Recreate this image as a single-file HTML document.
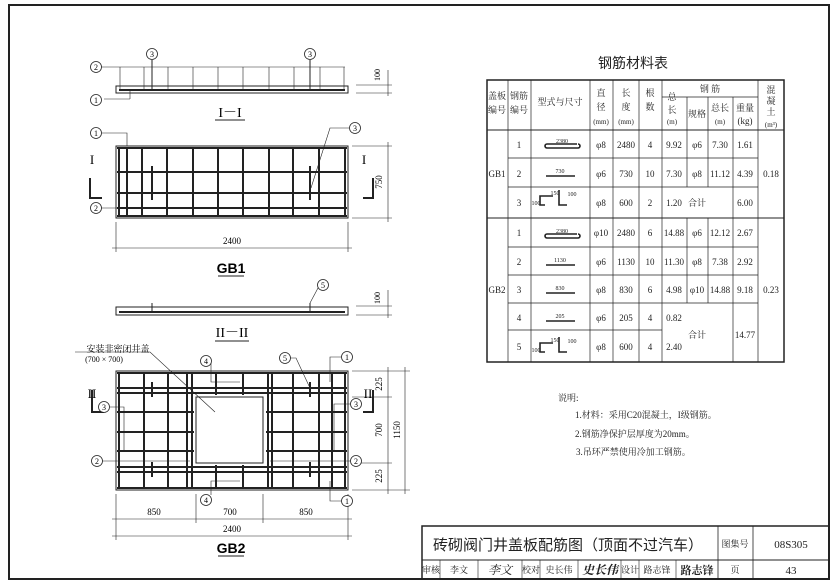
<!DOCTYPE html>
<html><head><meta charset="utf-8"><style>
html,body{margin:0;padding:0;background:#fff;}
svg{display:block;font-family:"Liberation Serif","Noto Serif CJK SC",serif;}
.t{font-family:"Liberation Serif","Noto Serif CJK SC",serif;}
.s{font-family:"Liberation Sans","Noto Sans CJK SC",sans-serif;}
</style></head><body>
<svg width="837" height="584" viewBox="0 0 837 584" xmlns="http://www.w3.org/2000/svg">
<rect x="0" y="0" width="837" height="584" fill="#fff"/>
<rect x="9" y="5" width="820" height="574" fill="none" stroke="#222" stroke-width="2"/>

<!-- I-I section -->
<g stroke="#222" fill="none">
<rect x="116" y="86" width="232" height="7" stroke-width="1"/>
<line x1="119" y1="90" x2="345" y2="90" stroke-width="2"/>
<line x1="100" y1="67" x2="345" y2="67" stroke-width="0.6"/>
<g stroke-width="0.6">
<line x1="120" y1="67" x2="120" y2="90"/><line x1="144" y1="67" x2="144" y2="90"/><line x1="168" y1="67" x2="168" y2="90"/>
<line x1="193" y1="67" x2="193" y2="90"/><line x1="218" y1="67" x2="218" y2="90"/><line x1="243" y1="67" x2="243" y2="90"/>
<line x1="269" y1="67" x2="269" y2="90"/><line x1="294" y1="67" x2="294" y2="90"/><line x1="320" y1="67" x2="320" y2="90"/><line x1="344" y1="67" x2="344" y2="90"/>
</g>
<line x1="152" y1="60" x2="152" y2="90" stroke-width="1"/><line x1="310" y1="60" x2="310" y2="90" stroke-width="1"/>
<line x1="356" y1="85" x2="392" y2="85" stroke-width="0.6"/><line x1="356" y1="93" x2="392" y2="93" stroke-width="0.6"/>
<line x1="388" y1="70" x2="388" y2="96" stroke-width="0.6"/>
<line x1="104" y1="99" x2="130" y2="99" stroke-width="0.6"/><line x1="130" y1="99" x2="130" y2="91" stroke-width="0.6"/>
<line x1="215" y1="120" x2="245" y2="120" stroke-width="1"/>
</g>
<g class="t" font-size="8" text-anchor="middle">
<circle cx="96" cy="67" r="5.5" fill="#fff" stroke="#222" stroke-width="0.8"/><text x="96" y="70">2</text>
<circle cx="96" cy="100" r="5.5" fill="#fff" stroke="#222" stroke-width="0.8"/><text x="96" y="103">1</text>
<circle cx="152" cy="54" r="5.5" fill="#fff" stroke="#222" stroke-width="0.8"/><text x="152" y="57">3</text>
<circle cx="310" cy="54" r="5.5" fill="#fff" stroke="#222" stroke-width="0.8"/><text x="310" y="57">3</text>
<text x="380" y="75" font-size="8" transform="rotate(-90 380 75)">100</text>
<text x="230" y="117" font-size="14">I－I</text>
</g>

<!-- GB1 plan -->
<g stroke="#222" fill="none">
<rect x="116" y="146" width="232" height="72" stroke-width="1"/>
<g stroke-width="2">
<line x1="119" y1="147" x2="119" y2="217"/><line x1="127" y1="147" x2="127" y2="217"/><line x1="142" y1="147" x2="142" y2="217"/>
<line x1="167" y1="147" x2="167" y2="217"/><line x1="193" y1="147" x2="193" y2="217"/><line x1="218" y1="147" x2="218" y2="217"/>
<line x1="243" y1="147" x2="243" y2="217"/><line x1="269" y1="147" x2="269" y2="217"/><line x1="293" y1="147" x2="293" y2="217"/>
<line x1="319" y1="147" x2="319" y2="217"/><line x1="345" y1="147" x2="345" y2="217"/>
<line x1="117" y1="148" x2="347" y2="148"/><line x1="117" y1="172" x2="347" y2="172"/><line x1="117" y1="193" x2="347" y2="193"/>
<line x1="117" y1="208" x2="347" y2="208"/><line x1="117" y1="216" x2="347" y2="216"/>
<line x1="152" y1="166" x2="152" y2="200"/><line x1="310" y1="166" x2="310" y2="200"/>
</g>
<path d="M90 178 V198 H102" stroke-width="2"/><path d="M373 178 V198 H363" stroke-width="2"/>
<path d="M102 133 H127 V146" stroke-width="0.6"/>
<path d="M100 208 H118" stroke-width="0.6"/>
<path d="M349 128 H330 L311 188" stroke-width="0.6"/>
<line x1="116" y1="222" x2="116" y2="252" stroke-width="0.6"/><line x1="348" y1="222" x2="348" y2="252" stroke-width="0.6"/>
<line x1="112" y1="248" x2="352" y2="248" stroke-width="0.6"/>
<line x1="352" y1="146" x2="392" y2="146" stroke-width="0.6"/><line x1="352" y1="218" x2="392" y2="218" stroke-width="0.6"/>
<line x1="388" y1="142" x2="388" y2="222" stroke-width="0.6"/>
<line x1="218" y1="276" x2="244" y2="276" stroke-width="1"/>
</g>
<g class="t" font-size="8" text-anchor="middle">
<circle cx="96" cy="133" r="5.5" fill="#fff" stroke="#222" stroke-width="0.8"/><text x="96" y="136">1</text>
<circle cx="96" cy="208" r="5.5" fill="#fff" stroke="#222" stroke-width="0.8"/><text x="96" y="211">2</text>
<circle cx="355" cy="128" r="5.5" fill="#fff" stroke="#222" stroke-width="0.8"/><text x="355" y="131">3</text>
<text x="92" y="164" font-size="13">I</text><text x="364" y="164" font-size="13">I</text>
<text x="232" y="244" font-size="9">2400</text>
<text x="382" y="182" font-size="9" transform="rotate(-90 382 182)">750</text>
</g>
<text x="231" y="273" class="s" font-size="14" font-weight="bold" text-anchor="middle">GB1</text>

<!-- II-II section -->
<g stroke="#222" fill="none">
<rect x="116" y="307" width="232" height="8" stroke-width="1"/>
<line x1="119" y1="312" x2="345" y2="312" stroke-width="2"/>
<line x1="152" y1="303" x2="152" y2="312" stroke-width="1"/><line x1="310" y1="303" x2="310" y2="312" stroke-width="1"/>
<path d="M318 288 L310 303" stroke-width="0.6"/>
<line x1="356" y1="306" x2="392" y2="306" stroke-width="0.6"/><line x1="356" y1="315" x2="392" y2="315" stroke-width="0.6"/>
<line x1="388" y1="290" x2="388" y2="318" stroke-width="0.6"/>
<line x1="215" y1="341" x2="249" y2="341" stroke-width="1"/>
</g>
<g class="t" font-size="8" text-anchor="middle">
<circle cx="323" cy="285" r="5.5" fill="#fff" stroke="#222" stroke-width="0.8"/><text x="323" y="288">5</text>
<text x="380" y="298" transform="rotate(-90 380 298)">100</text>
<text x="232" y="337" font-size="14">II－II</text>
</g>

<!-- GB2 plan -->
<g stroke="#222" fill="none">
<rect x="116" y="371" width="232" height="119" stroke-width="1"/>
<g stroke-width="2">
<line x1="119" y1="372" x2="119" y2="489"/><line x1="144" y1="372" x2="144" y2="489"/><line x1="168" y1="372" x2="168" y2="489"/>
<line x1="187" y1="372" x2="187" y2="489"/><line x1="192" y1="372" x2="192" y2="489"/>
<line x1="268" y1="372" x2="268" y2="489"/><line x1="272" y1="372" x2="272" y2="489"/><line x1="293" y1="372" x2="293" y2="489"/>
<line x1="319" y1="372" x2="319" y2="489"/><line x1="332" y1="372" x2="332" y2="489"/><line x1="345" y1="372" x2="345" y2="489"/>
<line x1="216" y1="372" x2="216" y2="395"/><line x1="243" y1="372" x2="243" y2="395"/>
<line x1="216" y1="465" x2="216" y2="489"/><line x1="243" y1="465" x2="243" y2="489"/>
<line x1="117" y1="373" x2="347" y2="373"/><line x1="117" y1="388" x2="347" y2="388"/><line x1="117" y1="393" x2="347" y2="393"/>
<line x1="117" y1="412" x2="194" y2="412"/><line x1="266" y1="412" x2="347" y2="412"/>
<line x1="117" y1="432" x2="194" y2="432"/><line x1="266" y1="432" x2="347" y2="432"/>
<line x1="117" y1="451" x2="194" y2="451"/><line x1="266" y1="451" x2="347" y2="451"/>
<line x1="117" y1="467" x2="347" y2="467"/><line x1="117" y1="472" x2="347" y2="472"/><line x1="117" y1="488" x2="347" y2="488"/>
<line x1="152" y1="382" x2="152" y2="397"/><line x1="310" y1="382" x2="310" y2="397"/>
<line x1="152" y1="462" x2="152" y2="477"/><line x1="310" y1="462" x2="310" y2="477"/>
</g>
<rect x="196" y="397" width="67" height="66" fill="#fff" stroke-width="1"/>
<path d="M92 390 V412 H104" stroke-width="2"/><path d="M373 390 V412 H363" stroke-width="2"/>
<path d="M75 352 H150 L215 412" stroke-width="0.6"/>
<path d="M211 362 V382 H240" stroke-width="0.6"/>
<path d="M211 495 V481 H240" stroke-width="0.6"/>
<path d="M290 358 H296 L310 388" stroke-width="0.6"/>
<path d="M341 357 H330 V382" stroke-width="0.6"/>
<path d="M341 501 H330 V481" stroke-width="0.6"/>
<path d="M110 407 H124 V450" stroke-width="0.6"/>
<path d="M350 404 H334 V450" stroke-width="0.6"/>
<path d="M100 461 H190" stroke-width="0.6"/><path d="M270 461 H350" stroke-width="0.6"/>
<line x1="116" y1="494" x2="116" y2="540" stroke-width="0.6"/><line x1="196" y1="494" x2="196" y2="523" stroke-width="0.6"/>
<line x1="263" y1="494" x2="263" y2="523" stroke-width="0.6"/><line x1="348" y1="494" x2="348" y2="540" stroke-width="0.6"/>
<line x1="112" y1="519" x2="352" y2="519" stroke-width="0.6"/><line x1="112" y1="536" x2="352" y2="536" stroke-width="0.6"/>
<line x1="352" y1="371" x2="410" y2="371" stroke-width="0.6"/><line x1="352" y1="490" x2="410" y2="490" stroke-width="0.6"/>
<line x1="352" y1="397" x2="392" y2="397" stroke-width="0.6"/><line x1="352" y1="463" x2="392" y2="463" stroke-width="0.6"/>
<line x1="388" y1="367" x2="388" y2="494" stroke-width="0.6"/><line x1="405" y1="367" x2="405" y2="494" stroke-width="0.6"/>
<line x1="218" y1="556" x2="244" y2="556" stroke-width="1"/>
</g>
<g class="t" font-size="8" text-anchor="middle">
<text x="118" y="352" font-size="9">安装非密闭井盖</text>
<text x="104" y="362" font-size="8">(700 × 700)</text>
<circle cx="206" cy="361" r="5.5" fill="#fff" stroke="#222" stroke-width="0.8"/><text x="206" y="364">4</text>
<circle cx="206" cy="500" r="5.5" fill="#fff" stroke="#222" stroke-width="0.8"/><text x="206" y="503">4</text>
<circle cx="285" cy="358" r="5.5" fill="#fff" stroke="#222" stroke-width="0.8"/><text x="285" y="361">5</text>
<circle cx="347" cy="357" r="5.5" fill="#fff" stroke="#222" stroke-width="0.8"/><text x="347" y="360">1</text>
<circle cx="347" cy="501" r="5.5" fill="#fff" stroke="#222" stroke-width="0.8"/><text x="347" y="504">1</text>
<circle cx="104" cy="407" r="5.5" fill="#fff" stroke="#222" stroke-width="0.8"/><text x="104" y="410">3</text>
<circle cx="356" cy="404" r="5.5" fill="#fff" stroke="#222" stroke-width="0.8"/><text x="356" y="407">3</text>
<circle cx="97" cy="461" r="5.5" fill="#fff" stroke="#222" stroke-width="0.8"/><text x="97" y="464">2</text>
<circle cx="356" cy="461" r="5.5" fill="#fff" stroke="#222" stroke-width="0.8"/><text x="356" y="464">2</text>
<text x="92" y="398" font-size="13">II</text><text x="368" y="398" font-size="13">II</text>
<text x="154" y="515" font-size="9">850</text><text x="230" y="515" font-size="9">700</text><text x="306" y="515" font-size="9">850</text>
<text x="232" y="532" font-size="9">2400</text>
<text x="382" y="384" font-size="9" transform="rotate(-90 382 384)">225</text>
<text x="382" y="430" font-size="9" transform="rotate(-90 382 430)">700</text>
<text x="382" y="476" font-size="9" transform="rotate(-90 382 476)">225</text>
<text x="400" y="430" font-size="9" transform="rotate(-90 400 430)">1150</text>
</g>
<text x="231" y="553" class="s" font-size="14" font-weight="bold" text-anchor="middle">GB2</text>

<!-- Table -->
<text x="633" y="68" class="s" font-size="14" text-anchor="middle" fill="#222">钢筋材料表</text>
<g stroke="#222" fill="none" stroke-width="0.7">
<rect x="487" y="80" width="297" height="282" stroke-width="1.5"/>
<line x1="487" y1="130" x2="784" y2="130" stroke-width="1"/>
<line x1="487" y1="218" x2="784" y2="218" stroke-width="1"/>
<line x1="508" y1="80" x2="508" y2="362"/><line x1="531" y1="80" x2="531" y2="362"/><line x1="590" y1="80" x2="590" y2="362"/>
<line x1="613" y1="80" x2="613" y2="362"/><line x1="639" y1="80" x2="639" y2="362"/><line x1="662" y1="80" x2="662" y2="362"/>
<line x1="758" y1="80" x2="758" y2="362"/>
<line x1="662" y1="97" x2="758" y2="97"/>
<line x1="687" y1="97" x2="687" y2="187"/><line x1="708" y1="97" x2="708" y2="187"/><line x1="733" y1="97" x2="733" y2="218"/>
<line x1="687" y1="218" x2="687" y2="303"/><line x1="708" y1="218" x2="708" y2="303"/><line x1="733" y1="218" x2="733" y2="362"/>
<line x1="508" y1="158" x2="758" y2="158"/><line x1="508" y1="187" x2="758" y2="187"/>
<line x1="508" y1="247" x2="758" y2="247"/><line x1="508" y1="275" x2="758" y2="275"/><line x1="508" y1="303" x2="758" y2="303"/>
<line x1="508" y1="330" x2="662" y2="330"/>
</g>
<g stroke="#222" fill="none" stroke-width="1.6">
<path d="M547 144 H577 M547 148 H578 a2 2 0 0 0 0 -4 M547 148 a2 2 0 0 1 0 -4"/>
<line x1="546" y1="176" x2="575" y2="176"/>
<path d="M545 205 H540 V196 H553 M559 196 V205 H567 M559 196 V190"/>
<path d="M547 234 H577 M547 238 H578 a2 2 0 0 0 0 -4 M547 238 a2 2 0 0 1 0 -4"/>
<line x1="546" y1="265" x2="575" y2="265"/><line x1="546" y1="293" x2="575" y2="293"/><line x1="546" y1="321" x2="575" y2="321"/>
<path d="M545 352 H540 V343 H553 M559 343 V352 H567 M559 343 V337"/>
</g>
<g class="t" font-size="9" text-anchor="middle" fill="#222">
<text x="497" y="99">盖板</text><text x="497" y="113">编号</text>
<text x="519" y="99">钢筋</text><text x="519" y="113">编号</text>
<text x="560" y="105">型式与尺寸</text>
<text x="601" y="96">直</text><text x="601" y="110">径</text><text x="601" y="124" font-size="7">(mm)</text>
<text x="626" y="96">长</text><text x="626" y="110">度</text><text x="626" y="124" font-size="7">(mm)</text>
<text x="650" y="96">根</text><text x="650" y="110">数</text>
<text x="650" y="96" fill="none"> </text>
<text x="650" y="110" fill="none"> </text>
<text x="650" y="96"> </text>
<text x="650" y="96"></text>
<text x="650" y="96"></text>
<text x="650" y="96"></text>
<text x="650" y="96"></text>
<text x="651" y="96"></text>
<text x="650" y="96"></text>
<text x="650" y="96"></text>
<text x="650" y="96"></text>
<text x="650" y="96"></text>
<text x="650" y="96"></text>
<text x="650" y="96"></text>
<text x="650" y="96"></text>
<text x="650" y="96"></text>
<text x="650" y="96"></text>
<text x="650" y="96"></text>
<text x="650" y="96"></text>
<text x="650" y="96"></text>
<text x="672" y="100">总</text><text x="672" y="113">长</text><text x="672" y="124" font-size="7">(m)</text>
<text x="710" y="92">钢  筋</text>
<text x="697" y="117">规格</text>
<text x="720" y="111">总长</text><text x="720" y="124" font-size="7">(m)</text>
<text x="745" y="111">重量</text><text x="745" y="124">(kg)</text>
<text x="771" y="93">混</text><text x="771" y="104">凝</text><text x="771" y="115">土</text><text x="771" y="127" font-size="7">(m³)</text>
<text x="497" y="177">GB1</text><text x="497" y="293">GB2</text>
<text x="519" y="148">1</text><text x="519" y="177">2</text><text x="519" y="206">3</text>
<text x="519" y="236">1</text><text x="519" y="265">2</text><text x="519" y="293">3</text><text x="519" y="321">4</text><text x="519" y="350">5</text>
<text x="562" y="143" font-size="6">2380</text><text x="560" y="173" font-size="6">730</text>
<text x="555" y="195" font-size="6">150</text><text x="536" y="205" font-size="6">100</text><text x="572" y="196" font-size="6">100</text>
<text x="562" y="233" font-size="6">2380</text><text x="560" y="262" font-size="6">1130</text><text x="560" y="290" font-size="6">830</text><text x="560" y="318" font-size="6">205</text>
<text x="555" y="342" font-size="6">150</text><text x="536" y="352" font-size="6">100</text><text x="572" y="343" font-size="6">100</text>
<text x="601" y="148">φ8</text><text x="601" y="177">φ6</text><text x="601" y="206">φ8</text>
<text x="601" y="236">φ10</text><text x="601" y="265">φ6</text><text x="601" y="293">φ8</text><text x="601" y="321">φ6</text><text x="601" y="350">φ8</text>
<text x="626" y="148">2480</text><text x="626" y="177">730</text><text x="626" y="206">600</text>
<text x="626" y="236">2480</text><text x="626" y="265">1130</text><text x="626" y="293">830</text><text x="626" y="321">205</text><text x="626" y="350">600</text>
<text x="650" y="148">4</text><text x="650" y="177">10</text><text x="650" y="206">2</text>
<text x="650" y="236">6</text><text x="650" y="265">10</text><text x="650" y="293">6</text><text x="650" y="321">4</text><text x="650" y="350">4</text>
<text x="674" y="148">9.92</text><text x="674" y="177">7.30</text><text x="674" y="206">1.20</text>
<text x="674" y="236">14.88</text><text x="674" y="265">11.30</text><text x="674" y="293">4.98</text><text x="674" y="321">0.82</text><text x="674" y="350">2.40</text>
<text x="697" y="148">φ6</text><text x="697" y="177">φ8</text><text x="697" y="236">φ6</text><text x="697" y="265">φ8</text><text x="697" y="293">φ10</text>
<text x="720" y="148">7.30</text><text x="720" y="177">11.12</text><text x="720" y="236">12.12</text><text x="720" y="265">7.38</text><text x="720" y="293">14.88</text>
<text x="745" y="148">1.61</text><text x="745" y="177">4.39</text><text x="745" y="206">6.00</text>
<text x="745" y="236">2.67</text><text x="745" y="265">2.92</text><text x="745" y="293">9.18</text><text x="745" y="338">14.77</text>
<text x="697" y="206">合计</text><text x="697" y="338">合计</text>
<text x="771" y="177">0.18</text><text x="771" y="293">0.23</text>
</g>

<!-- Notes -->
<g class="t" font-size="9" fill="#222">
<text x="558" y="401">说明:</text>
<text x="575" y="418">1.材料：采用C20混凝土，I级钢筋。</text>
<text x="575" y="437">2.钢筋净保护层厚度为20mm。</text>
<text x="576" y="455">3.吊环严禁使用冷加工钢筋。</text>
</g>

<!-- Title block -->
<g stroke="#222" fill="none">
<rect x="422" y="526" width="407" height="53" stroke-width="1.5"/>
<line x1="422" y1="560" x2="829" y2="560" stroke-width="1"/>
<line x1="718" y1="526" x2="718" y2="579" stroke-width="0.8"/>
<line x1="753" y1="526" x2="753" y2="579" stroke-width="0.8"/>
<g stroke-width="0.6">
<line x1="440" y1="560" x2="440" y2="579"/><line x1="478" y1="560" x2="478" y2="579"/><line x1="522" y1="560" x2="522" y2="579"/>
<line x1="540" y1="560" x2="540" y2="579"/><line x1="578" y1="560" x2="578" y2="579"/><line x1="621" y1="560" x2="621" y2="579"/>
<line x1="639" y1="560" x2="639" y2="579"/><line x1="676" y1="560" x2="676" y2="579"/>
</g>
</g>
<g fill="#222">
<text x="568" y="550" class="s" font-size="15" text-anchor="middle">砖砌阀门井盖板配筋图（顶面不过汽车）</text>
<text x="735" y="547" class="t" font-size="9" text-anchor="middle">图集号</text>
<text x="791" y="548" class="t" font-size="11" text-anchor="middle">08S305</text>
<g class="t" font-size="9" text-anchor="middle">
<text x="431" y="573">审核</text><text x="459" y="573">李文</text>
<text x="500" y="574" font-size="12" font-style="italic">李文</text>
<text x="531" y="573">校对</text><text x="559" y="573">史长伟</text>
<text x="600" y="574" font-size="12" font-style="italic" font-weight="bold">史长伟</text>
<text x="630" y="573">设计</text><text x="657" y="573">路志锋</text>
<text x="697" y="574" font-size="11" font-weight="bold">路志锋</text>
<text x="735" y="573">页</text>
<text x="791" y="574" font-size="11">43</text>
</g>
</g>
</svg>
</body></html>
